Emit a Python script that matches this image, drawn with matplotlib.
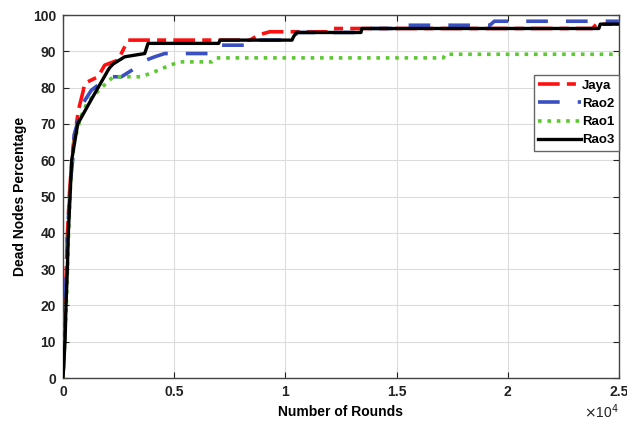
import matplotlib
matplotlib.use("Agg")
import matplotlib.pyplot as plt

plt.rcParams['font.family'] = ['Liberation Sans', 'DejaVu Sans']

# Data (rounds, dead nodes %)
jaya_x = [0, 100, 200, 300, 450, 700, 900, 975, 1575, 1875, 2475, 2925, 8415, 8775, 9300, 11900, 12000, 23800, 24000, 25000]
jaya_y = [0, 20, 40, 52, 63.7, 74, 78.9, 81.2, 83, 86.2, 87.6, 93.1, 93.1, 94.5, 95.4, 95.4, 96.3, 96.3, 97.5, 97.5]

rao2_x = [0, 100, 200, 350, 450, 500, 900, 1275, 1575, 2025, 2100, 2625, 3225, 3525, 4125, 4575, 6690, 7065, 8400, 8600, 10400, 10500, 13400, 13500, 14800, 14900, 19200, 19400, 25000]
rao2_y = [0, 20, 40, 55, 61, 67, 75.7, 79.3, 80.7, 82.5, 83, 83, 85.3, 87.1, 88.5, 89.4, 89.4, 91.7, 91.7, 93.1, 93.1, 95.2, 95.2, 96.3, 96.3, 97.2, 97.2, 98.3, 98.3]

rao1_x = [0, 150, 250, 350, 500, 800, 1100, 1710, 2025, 2250, 3510, 3915, 4125, 4815, 5265, 6690, 6900, 17100, 17200, 25000]
rao1_y = [0, 20, 40, 55, 65, 72, 76, 79.9, 81.6, 83, 83, 83.9, 84.4, 86.2, 87.1, 87.1, 88.2, 88.2, 89.2, 89.2]

rao3_x = [0, 90, 135, 195, 240, 315, 390, 660, 1260, 2025, 2100, 2250, 2775, 3675, 3825, 7000, 7065, 10300, 10365, 10500, 13400, 13440, 24100, 24165, 25000]
rao3_y = [0, 10, 20, 30, 40, 50, 60, 70, 76.6, 84.8, 85.5, 86.5, 88.5, 89.4, 92.2, 92.2, 93.1, 93.1, 94.0, 95.2, 95.2, 96.3, 96.3, 97.5, 97.5]

xticks = [0, 5000, 10000, 15000, 20000, 25000]
xtick_labels = ['0', '0.5', '1', '1.5', '2', '2.5']
yticks = list(range(0, 101, 10))

fig = plt.figure(figsize=(6.27, 4.28), dpi=100)
ax = fig.add_axes([0.1005, 0.1168, 0.8865, 0.848])

ax.plot(jaya_x, jaya_y, color='#ff1010', lw=2.6, linestyle=(0, (6, 2, 2.5, 2)), label='Jaya', zorder=3)
ax.plot(rao2_x, rao2_y, color='#3a4fc0', lw=2.6, linestyle=(0, (6, 5)), label='Rao2', zorder=3)
ax.plot(rao1_x, rao1_y, color='#5cc832', lw=2.6, linestyle=(0, (1, 1.6)), label='Rao1', zorder=3)
ax.plot(rao3_x, rao3_y, color='black', lw=2.4, linestyle='-', label='Rao3', zorder=4)

ax.set_xlim(0, 25000)
ax.set_ylim(0, 100)
ax.set_xticks(xticks)
ax.set_xticklabels(xtick_labels)
ax.set_yticks(yticks)
ax.grid(True, color='#dcdcdc', lw=0.8)
ax.set_axisbelow(True)
ax.tick_params(direction='in', top=True, right=True, length=4, width=0.8,
               labelsize=10, colors='#222222', pad=5)
for lab in ax.get_xticklabels() + ax.get_yticklabels():
    lab.set_fontweight('bold')
for sp in ax.spines.values():
    sp.set_color('#444444')
    sp.set_linewidth(1.0)

ax.set_xlabel('Number of Rounds', fontsize=10, fontweight='bold', labelpad=4)
ax.set_ylabel('Dead Nodes Percentage', fontsize=10, fontweight='bold', labelpad=4)
ax.text(1.0, -0.068, r'$\times$10$^4$', transform=ax.transAxes, ha='right', va='top',
        fontsize=10, color='#222222')

leg = ax.legend(loc='upper right', bbox_to_anchor=(1.0, 0.835),
                prop={'weight': 'bold', 'size': 9.5}, frameon=True, fancybox=False,
                edgecolor='#666666', framealpha=1, handlelength=3.2, handletextpad=0.1,
                borderpad=0.35, labelspacing=0.45, borderaxespad=0)
leg.get_frame().set_linewidth(1.0)

fig.savefig('out.png', dpi=100)
